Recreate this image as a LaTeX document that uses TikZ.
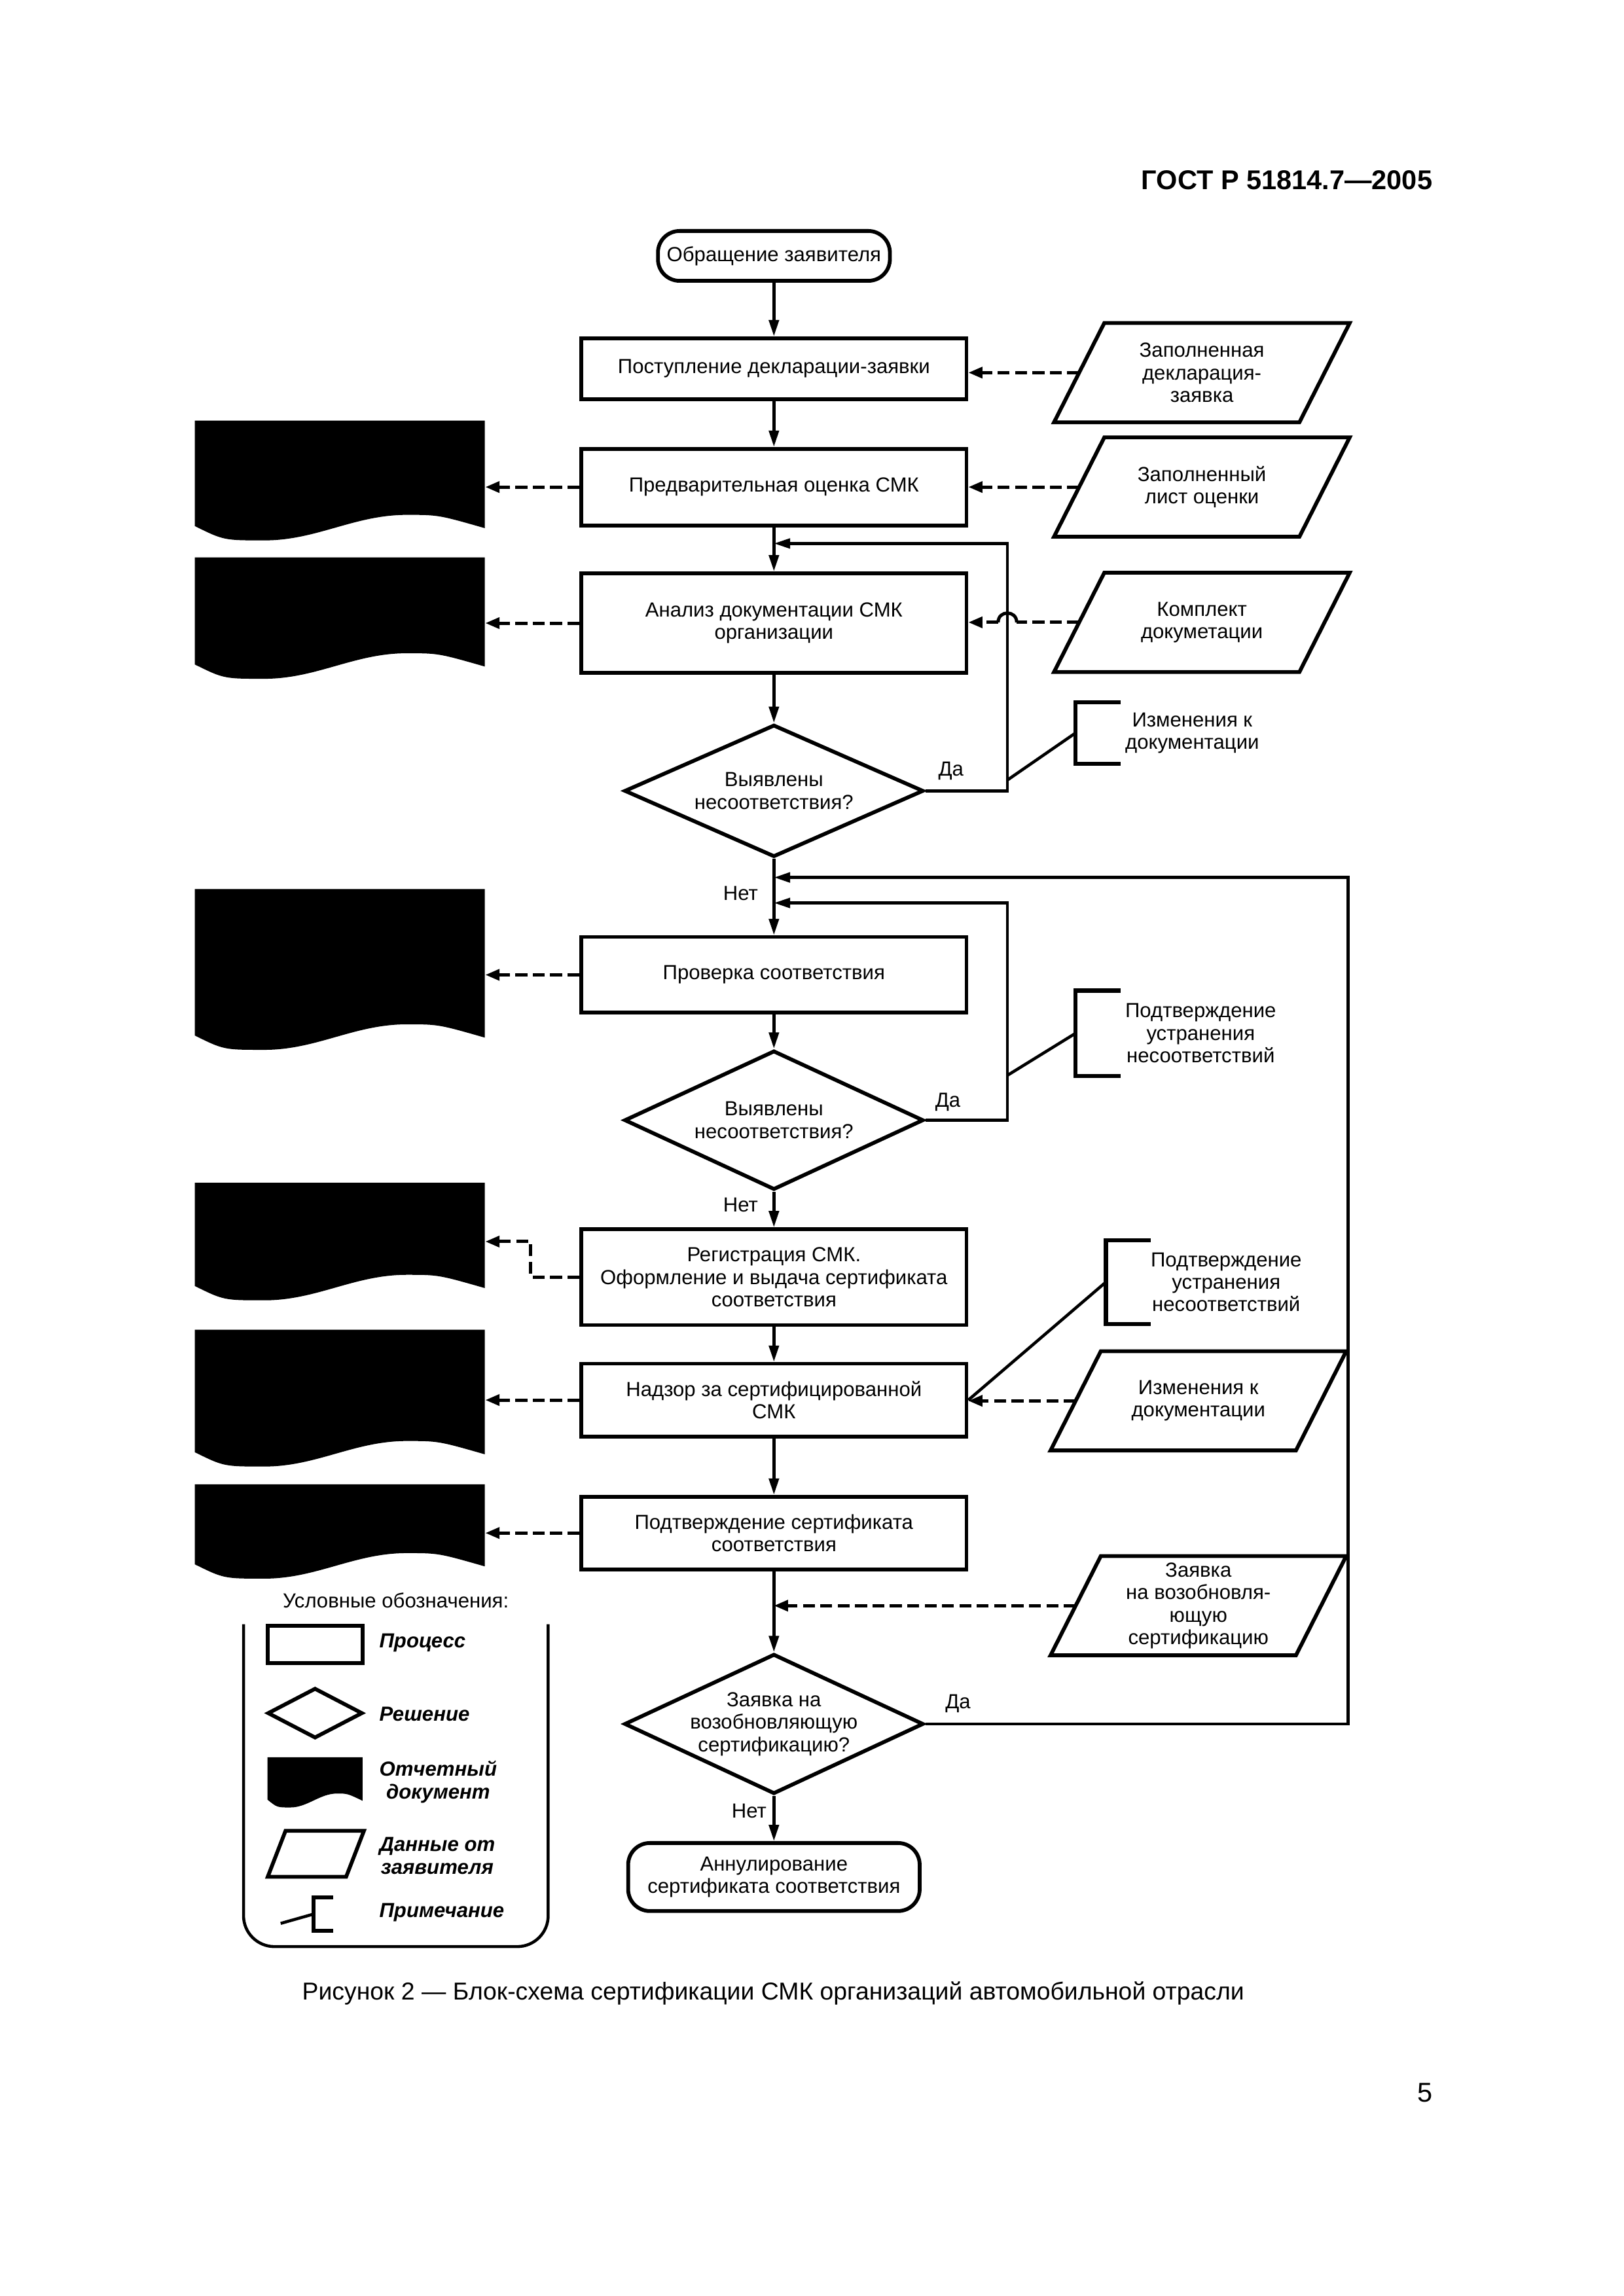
\documentclass[tikz,border=0pt]{standalone}
\usepackage{fontspec}
\setmainfont{Liberation Sans}
\usetikzlibrary{shapes.geometric,positioning,arrows.meta,calc}

\newcommand{\slantframe}[2]{\draw[line width=1.4pt] ([xshift=-#2]#1.south west) --
  ([xshift=#2]#1.north west) -- ([xshift=#2]#1.north east) --
  ([xshift=-#2]#1.south east) -- cycle;}

\begin{document}
\begin{tikzpicture}[x=1mm,y=-1mm,
  every node/.style={font=\fontsize{7.5}{8.3}\selectfont},
  rdoc/.style={shape=rectangle,minimum width=37.5mm,inner sep=0pt,
    path picture={\fill let \p1=(path picture bounding box.north west),
      \p2=(path picture bounding box.south east) in
      (\x1,\y1) -- (\x2,\y1) -- (\x2,{\y2+0.48*#1})
      .. controls ({\x1+0.84*(\x2-\x1)},{\y2+#1}) .. ({\x1+0.73*(\x2-\x1)},{\y2+#1})
      .. controls ({\x1+0.55*(\x2-\x1)},{\y2+#1}) and ({\x1+0.42*(\x2-\x1)},\y2) .. ({\x1+0.24*(\x2-\x1)},\y2)
      .. controls ({\x1+0.1*(\x2-\x1)},\y2) .. (\x1,{\y2+0.56*#1}) -- cycle;}},
  rdoc/.default=3.3mm]

  \useasboundingbox (0,0) rectangle (210,297);

  \coordinate (Start) at (100.1,33.1);
  \coordinate (Rcpt) at (100.1,47.7);
  \coordinate (Prelim) at (100.1,63.0);
  \coordinate (Audit) at (100.1,80.6);
  \coordinate (Found1) at (100.1,102.3);
  \coordinate (Check) at (100.1,126.1);
  \coordinate (Found2) at (100.1,144.9);
  \coordinate (Reg) at (100.1,165.2);
  \coordinate (Watch) at (100.1,181.1);
  \coordinate (Confirm) at (100.1,198.3);
  \coordinate (Renew) at (100.1,223.0);
  \coordinate (Cancel) at (100.1,242.8);

  \coordinate (Back1) at (130.3,70.3);
  \coordinate (Back2) at (130.3,116.8);
  \coordinate (Back3) at (174.4,113.5);

  \tikzstyle{pbox}=[draw,line width=1.4pt,shape=rectangle,
                    minimum width=49.8mm,inner sep=2pt,align=center];
  \tikzstyle{tbox}=[draw,line width=1.4pt,shape=rectangle,
                    rounded corners=2.8mm,inner sep=2pt,align=center];
  \tikzstyle{qbox}=[draw,line width=1.4pt,shape=diamond,
                    minimum width=38.7mm,inner sep=0pt];
  \tikzstyle{ibox}=[shape=rectangle,minimum width=31.6mm,
                    minimum height=12.7mm,inner sep=0pt,align=center];
  \tikzstyle{nbox}=[shape=rectangle,inner sep=0pt,align=center];
  \tikzstyle{flow}=[-{Triangle[length=6pt,width=3.6pt]},line width=1.1pt];
  \tikzstyle{dline}=[line width=1.2pt,dash pattern=on 4.4pt off 2pt];
  \tikzstyle{dflow}=[dline,-{Triangle[length=5.2pt,width=4pt]}];
  \tikzstyle{nline}=[line width=1.5pt];
  \tikzstyle{lbl}=[inner sep=0.5pt];
  \tikzstyle{legtxt}=[font=\fontsize{7.5}{8.3}\selectfont\bfseries\itshape,
                      align=center,anchor=west,inner sep=0pt];

  \node[font=\fontsize{10}{12}\selectfont\bfseries,anchor=east] (Header)
       at (186.5,23.3) {ГОСТ Р 51814.7—2005};

  % main column
  \node[tbox,minimum width=30mm,minimum height=6.45mm] (StartBox) at (Start) {Обращение заявителя};
  \node[pbox,minimum height=7.9mm] (RcptBox) at (Rcpt) {Поступление декларации-заявки};
  \node[pbox,minimum height=9.9mm] (PrelimBox) at (Prelim) {Предварительная оценка СМК};
  \node[pbox,minimum height=12.9mm] (AuditBox) at (Audit) {Анализ документации СМК\\организации};
  \node[qbox,minimum height=17.1mm] (Found1Box) at (Found1) {};
  \node[align=center] (Found1Txt) at (Found1) {Выявлены\\несоответствия?};
  \node[pbox,minimum height=9.8mm] (CheckBox) at (Check) {Проверка соответствия};
  \node[qbox,minimum height=18mm] (Found2Box) at (Found2) {};
  \node[align=center] (Found2Txt) at (Found2) {Выявлены\\несоответствия?};
  \node[pbox,minimum height=12.4mm] (RegBox) at (Reg) {Регистрация СМК.\\Оформление и выдача сертификата\\соответствия};
  \node[pbox,minimum height=9.4mm] (WatchBox) at (Watch) {Надзор за сертифицированной\\СМК};
  \node[pbox,minimum height=9.4mm] (ConfirmBox) at (Confirm) {Подтверждение сертификата\\соответствия};
  \node[qbox,minimum height=18.1mm] (RenewBox) at (Renew) {};
  \node[align=center] (RenewTxt) at (Renew) {Заявка на\\возобновляющую\\сертификацию?};
  \node[tbox,minimum width=37.7mm,minimum height=8.8mm] (CancelBox) at (Cancel) {Аннулирование\\сертификата соответствия};

  \draw[flow] (StartBox) -- (RcptBox);
  \draw[flow] (RcptBox) -- (PrelimBox);
  \draw[flow] (PrelimBox) -- (AuditBox);
  \draw[flow] (AuditBox) -- (Found1Box);
  \draw[flow] (Found1Box) -- node[lbl,left=1.7mm,pos=0.45] (No1) {Нет} (CheckBox);
  \draw[flow] (CheckBox) -- (Found2Box);
  \draw[flow] (Found2Box) -- node[lbl,left=1.7mm,pos=0.37] (No2) {Нет} (RegBox);
  \draw[flow] (RegBox) -- (WatchBox);
  \draw[flow] (WatchBox) -- (ConfirmBox);
  \draw[flow] (ConfirmBox) -- (RenewBox);
  \draw[flow] (RenewBox) -- node[lbl,left=0.6mm,pos=0.34] (No3) {Нет} (CancelBox);

  % loops back
  \draw[flow] (Found1Box.east) node[lbl,above right=1mm and 1.3mm] (Yes1) {Да}
              -| (Back1) -- (Back1 -| AuditBox.north);
  \draw[flow] (Found2Box.east) node[lbl,above right=0.8mm and 0.9mm] (Yes2) {Да}
              -| (Back2) -- (Back2 -| CheckBox.north);
  \draw[flow,line width=1.2pt] (RenewBox.east) node[lbl,above right=1.1mm and 2.2mm] (Yes3) {Да}
              -| (Back3) -- (Back3 -| CheckBox.north);

  % data from the applicant
  \node[ibox] (Data1) at (155.45,48.2) {Заполненная\\декларация-\\заявка};
  \node[ibox] (Data2) at (155.45,63.0) {Заполненный\\лист оценки};
  \node[ibox] (Data3) at (155.45,80.5) {Комплект\\докуметации};
  \node[ibox] (Data4) at (155.0,181.2) {Изменения к\\документации};
  \node[ibox] (Data5) at (155.0,207.7) {Заявка\\на возобновля-\\ющую\\сертификацию};
  \foreach \d in {Data1,Data2,Data3,Data4,Data5} {\slantframe{\d}{3.25mm}}

  \draw[dflow] (Data1.west) -- (Data1.west -| RcptBox.east);
  \draw[dflow] (Data2.west) -- (Data2.west -| PrelimBox.east);
  \coordinate (Hop) at (Back1 |- Data3.west);
  \draw[dline] (Data3.west) -- ([xshift=1.2mm]Hop);
  \draw[line width=1.2pt] ([xshift=1.2mm]Hop) .. controls +(0,-1.6) and +(0,-1.6) .. ([xshift=-1.2mm]Hop);
  \draw[dflow] ([xshift=-1.2mm]Hop) -- (Hop -| AuditBox.east);
  \draw[dflow] (Data4.west) -- (Data4.west -| WatchBox.east);
  \draw[dflow] (Data5.west) -- (Data5.west -| ConfirmBox.south);

  % report documents
  \node[rdoc,minimum height=15.5mm] (Doc1) at (43.95,62.15) {};
  \node[rdoc,minimum height=15.7mm] (Doc2) at (43.95,79.95) {};
  \node[rdoc,minimum height=20.8mm] (Doc3) at (43.95,125.4) {};
  \node[rdoc,minimum height=15.2mm] (Doc4) at (43.95,160.6) {};
  \node[rdoc,minimum height=17.7mm] (Doc5) at (43.95,180.85) {};
  \node[rdoc,minimum height=12.2mm] (Doc6) at (43.95,198.1) {};

  \draw[dflow] (PrelimBox.west) -- (PrelimBox.west -| Doc1.east);
  \draw[dflow] (AuditBox.west) -- (AuditBox.west -| Doc2.east);
  \draw[dflow] (CheckBox.west) -- (CheckBox.west -| Doc3.east);
  \draw[dflow] (RegBox.west) -- ++(-6.3,0) |- (Doc4.east);
  \draw[dflow] (WatchBox.west) -- (WatchBox.west -| Doc5.east);
  \draw[dflow] (ConfirmBox.west) -- (ConfirmBox.west -| Doc6.east);

  % notes
  \node[nbox,minimum width=30mm,minimum height=7.8mm] (Note1) at (154.2,94.8) {Изменения к\\документации};
  \node[nbox,minimum width=32.2mm,minimum height=10.9mm] (Note2) at (155.3,133.65) {Подтверждение\\устранения\\несоответствий};
  \node[nbox,minimum width=31mm,minimum height=10.7mm] (Note3) at (158.6,165.85) {Подтверждение\\устранения\\несоответствий};
  \foreach \n in {Note1,Note2,Note3} {
    \draw[nline] ([xshift=5.8mm]\n.north west) -- (\n.north west) -- (\n.south west) -- ([xshift=5.8mm]\n.south west);
  }
  \coordinate (Tap1) at (130.3,100.9);
  \coordinate (Tap2) at (130.3,139.1);
  \draw[line width=1.1pt] (Tap1) -- (Note1.west);
  \draw[line width=1.1pt] (Tap2) -- (Note2.west);
  \draw[line width=1.1pt] (Note3.west) -- (WatchBox.east);

  % legend
  \node (LegTitle) at (51.2,207.0) {Условные обозначения:};
  \draw[line width=1.1pt,rounded corners=4mm] (31.5,210.1) -- (31.5,251.8) -- (70.9,251.8) -- (70.9,210.1);
  \node[pbox,minimum width=12.3mm,minimum height=4.8mm] (LegProc) at (40.75,212.7) {};
  \node[legtxt] (LegProcTxt) at (49,212.5) {Процесс};
  \node[qbox,minimum width=12.3mm,minimum height=6.5mm] (LegDec) at (40.75,221.6) {};
  \node[legtxt] (LegDecTxt) at (49,221.7) {Решение};
  \node[rdoc=1.8mm,minimum width=12.3mm,minimum height=6.5mm] (LegDoc) at (40.75,230.55) {};
  \node[legtxt] (LegDocTxt) at (49,230.5) {Отчетный\\документ};
  \node[ibox,minimum width=10mm,minimum height=5.8mm] (LegData) at (40.85,239.8) {};
  \slantframe{LegData}{1.15mm}
  \node[legtxt] (LegDataTxt) at (49,240.05) {Данные от\\заявителя};
  \node[nbox,minimum width=2.4mm,minimum height=4.2mm] (LegNote) at (41.8,247.6) {};
  \draw[nline] (LegNote.north east) -- (LegNote.north west) -- (LegNote.south west) -- (LegNote.south east);
  \coordinate (LegTap) at (36.3,248.8);
  \draw[line width=1.1pt] (LegTap) -- (LegNote.west);
  \node[legtxt] (LegNoteTxt) at (49,247.4) {Примечание};

  \node[font=\fontsize{9}{10.8}\selectfont] (Caption) at (100,257.8)
       {Рисунок 2 — Блок-схема сертификации СМК организаций автомобильной отрасли};
  \node[font=\fontsize{10}{12}\selectfont] (PageNo) at (184.3,270.7) {5};

\end{tikzpicture}
\end{document}
